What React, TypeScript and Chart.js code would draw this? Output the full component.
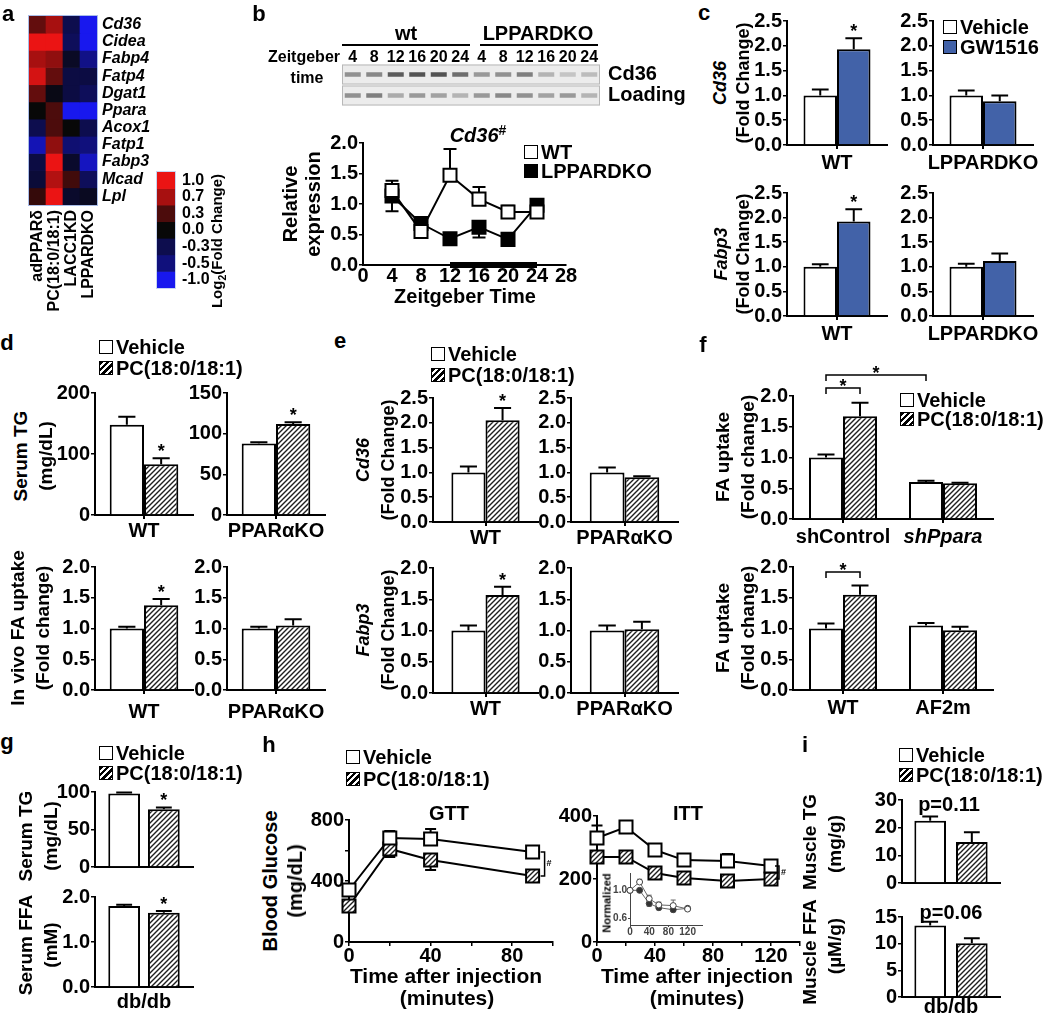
import React, { useEffect, useRef } from 'react';
import { Chart, registerables } from 'chart.js';

Chart.register(...registerables);

const FONT = '"Liberation Sans", Arial, Helvetica, sans-serif';
Chart.defaults.font.family = FONT;
(Chart.defaults.font as any).weight = 'bold';
Chart.defaults.color = '#000';

/* ======================= DATA ======================= */
// a: heat map (log2 fold change)
const heatGenes = ['Cd36', 'Cidea', 'Fabp4', 'Fatp4', 'Dgat1', 'Ppara', 'Acox1', 'Fatp1', 'Fabp3', 'Mcad', 'Lpl'];
const heatColumns = ['adPPARδ', 'PC(18:0/18:1)', 'LACC1KD', 'LPPARDKO'];
const heatValues = [
  [0.4, 0.7, -0.3, -1.0],
  [1.0, 1.0, -0.35, -1.0],
  [0.7, 0.6, -0.12, -0.55],
  [0.9, 0.4, -0.25, -0.25],
  [0.4, -0.05, -0.25, -0.35],
  [0.0, 0.3, -1.0, -1.0],
  [-0.3, 0.3, 0.0, -0.3],
  [-0.75, 0.6, -0.45, -0.5],
  [-0.25, 1.0, -0.15, -0.8],
  [-0.2, 0.75, 0.25, -0.35],
  [0.2, 1.0, -0.15, -0.1],
];
const colorbarValues = [1.0, 0.7, 0.3, 0.0, -0.3, -0.5, -1.0];

// b: blot + Cd36 time course
const blotLanes = ['4', '8', '12', '16', '20', '24', '4', '8', '12', '16', '20', '24'];
const blotRows = ['Cd36', 'Loading'];
const blotCd36 = [0.5, 0.55, 0.8, 0.85, 0.85, 0.7, 0.45, 0.5, 0.6, 0.3, 0.2, 0.25];
const blotLoading = [0.5, 0.6, 0.35, 0.45, 0.4, 0.3, 0.45, 0.55, 0.5, 0.4, 0.45, 0.3];
const zeitTimes = [4, 8, 12, 16, 20, 24];
const cd36WT = [1.22, 0.55, 1.47, 1.08, 0.87, 0.87];
const cd36WTErr = [0.16, 0.02, 0.43, 0.2, 0.1, 0.04];
const cd36KO = [1.13, 0.68, 0.43, 0.62, 0.42, 0.98];
const cd36KOErr = [0.25, 0.03, 0.02, 0.17, 0.03, 0.05];
const darkPhase = [12, 24];
const bXTicks = [0, 4, 8, 12, 16, 20, 24, 28];
const bYTicks = [0, 0.5, 1, 1.5, 2];

// c: GW1516
const cGenotypes = ['WT', 'LPPARDKO'];
const cCd36Vehicle = [1.0, 1.0];
const cCd36VehicleErr = [0.12, 0.1];
const cCd36GW = [1.93, 0.88];
const cCd36GWErr = [0.22, 0.12];
const cFabp3Vehicle = [1.0, 1.0];
const cFabp3VehicleErr = [0.05, 0.06];
const cFabp3GW = [1.92, 1.12];
const cFabp3GWErr = [0.25, 0.15];
const cYTicks = [0, 0.5, 1, 1.5, 2, 2.5];

// d: PC(18:0/18:1) in PPARa KO
const dGenotypes = ['WT', 'PPARαKO'];
const dTGVehicle = [148, 88];
const dTGVehicleErr = [13, 1.5];
const dTGPC = [83, 112];
const dTGPCErr = [10, 2];
const dTGTicksWT = [0, 100, 200];
const dTGTicksKO = [0, 50, 100, 150];
const dFAVehicle = [1.0, 1.0];
const dFAVehicleErr = [0.03, 0.03];
const dFAPC = [1.38, 1.05];
const dFAPCErr = [0.1, 0.1];
const dFATicks = [0, 0.5, 1, 1.5, 2];

// e
const eGenotypes = ['WT', 'PPARαKO'];
const eCd36Vehicle = [1.0, 1.0];
const eCd36VehicleErr = [0.12, 0.1];
const eCd36PC = [2.05, 0.9];
const eCd36PCErr = [0.25, 0.02];
const eFabp3Vehicle = [1.0, 1.0];
const eFabp3VehicleErr = [0.08, 0.08];
const eFabp3PC = [1.57, 1.02];
const eFabp3PCErr = [0.13, 0.12];
const eCd36Ticks = [0, 0.5, 1, 1.5, 2, 2.5];
const eFabp3Ticks = [0, 0.5, 1, 1.5, 2];

// f
const fShGroups = ['shControl', 'shPpara'];
const fShVehicle = [1.0, 0.6];
const fShVehicleErr = [0.05, 0.02];
const fShPC = [1.67, 0.58];
const fShPCErr = [0.22, 0.01];
const fAfGroups = ['WT', 'AF2m'];
const fAfVehicle = [1.0, 1.05];
const fAfVehicleErr = [0.08, 0.04];
const fAfPC = [1.55, 0.97];
const fAfPCErr = [0.15, 0.06];
const fTicks = [0, 0.5, 1, 1.5, 2];

// g (Vehicle, PC)
const gGroup = ['db/db'];
const gTG = [98, 77];
const gTGErr = [1.5, 2.5];
const gTGTicks = [0, 50, 100];
const gFFA = [1.8, 1.65];
const gFFAErr = [0.03, 0.04];
const gFFATicks = [0, 1, 2];

// h
const gttTimes = [0, 20, 40, 90];
const gttVehicle = [341, 682, 675, 590];
const gttVehicleErr = [20, 46, 66, 15];
const gttPC = [236, 610, 538, 433];
const gttPCErr = [20, 53, 66, 20];
const gttXTicks = [0, 20, 40, 60, 80, 100];
const gttXLabels = [0, 40, 80];
const gttYTicks = [0, 200, 400, 600, 800];
const gttYLabels = [0, 400, 800];
const ittTimes = [0, 20, 40, 60, 90, 120];
const ittVehicle = [330, 365, 292, 260, 257, 241];
const ittVehicleErr = [40, 10, 10, 10, 22, 10];
const ittPC = [270, 270, 219, 203, 194, 200];
const ittPCErr = [10, 10, 10, 10, 8, 8];
const ittXTicks = [0, 20, 40, 60, 80, 100, 120, 140];
const ittXLabels = [0, 40, 80, 120];
const ittYTicks = [0, 200, 400];
const normVehicle = [1.0, 1.12, 0.88, 0.79, 0.78, 0.73];
const normVehicleErr = [0, 0.04, 0.05, 0.04, 0.08, 0.02];
const normPC = [1.0, 1.0, 0.81, 0.75, 0.72, 0.74];
const normPCErr = [0, 0.02, 0.04, 0.03, 0.03, 0.02];
const normXTicks = [0, 40, 80, 120];
const normYTicks = [0.6, 1.0];

// i (Vehicle, PC)
const iGroup = ['db/db'];
const iTG = [22.5, 14.8];
const iTGErr = [1.5, 3.5];
const iTGTicks = [0, 10, 20, 30];
const iFFA = [13.4, 10.1];
const iFFAErr = [0.7, 0.9];
const iFFATicks = [0, 5, 10, 15];
const iPValues = ['p=0.11', 'p=0.06'];

/* ======================= STYLE HELPERS ======================= */
const GW_BLUE = '#4262a8';
const f1 = (v: any) => Number(v).toFixed(1);
const f0 = (v: any) => String(Math.round(Number(v)));

function heatColor(v: number) {
  const a = Math.min(1, Math.abs(v));
  if (v >= 0) return `rgb(${Math.round(8 + 227 * a)},${Math.round(8 + 12 * a)},${Math.round(8 + 12 * a)})`;
  return `rgb(${Math.round(8 + 16 * a)},${Math.round(8 + 16 * a)},${Math.round(10 + 228 * a)})`;
}

function hatchPattern(ctx: CanvasRenderingContext2D) {
  const c = document.createElement('canvas');
  c.width = 5;
  c.height = 5;
  const g = c.getContext('2d') as CanvasRenderingContext2D;
  g.fillStyle = '#fff';
  g.fillRect(0, 0, 5, 5);
  g.strokeStyle = '#1e1e1e';
  g.lineWidth = 1.4;
  g.beginPath();
  g.moveTo(-1, 6); g.lineTo(6, -1);
  g.moveTo(-1, 1); g.lineTo(1, -1);
  g.moveTo(4, 6); g.lineTo(6, 4);
  g.stroke();
  return ctx.createPattern(c, 'repeat');
}

const annotPlugin: any = {
  id: 'annot',
  beforeDatasetsDraw(chart: any, _a: any, opts: any) {
    const ctx = chart.ctx;
    if (opts && opts.strips) {
      const ys = chart.scales.y;
      const { left, right } = chart.chartArea;
      for (let i = 0; i < opts.strips; i++) {
        const c = ys.getPixelForValue(i + 0.5);
        ctx.save();
        ctx.fillStyle = '#ececec';
        ctx.fillRect(left, c - 10, right - left, 20);
        ctx.strokeStyle = '#b8b8b8';
        ctx.lineWidth = 1;
        ctx.strokeRect(left + 0.5, c - 9.5, right - left - 1, 19);
        ctx.restore();
      }
    }
    chart.data.datasets.forEach((ds: any, di: number) => {
      if (!ds.errors) return;
      const meta = chart.getDatasetMeta(di);
      const ys = chart.scales[meta.yAxisID];
      const dir = ds.errDir || 1;
      meta.data.forEach((el: any, i: number) => {
        const e = ds.errors[i];
        if (!e) return;
        const raw = ds.data[i];
        const v = typeof raw === 'number' ? raw : raw.y;
        const y0 = ys.getPixelForValue(v);
        const y1 = ys.getPixelForValue(v + dir * e);
        const cap = ds.errCap || (el.width ? el.width * 0.5 : 12);
        ctx.save();
        ctx.strokeStyle = ds.errColor || '#000';
        ctx.lineWidth = ds.errWidth || 2;
        ctx.beginPath();
        ctx.moveTo(el.x, y0);
        ctx.lineTo(el.x, y1);
        ctx.moveTo(el.x - cap / 2, y1);
        ctx.lineTo(el.x + cap / 2, y1);
        ctx.stroke();
        ctx.restore();
      });
    });
  },
  afterDatasetsDraw(chart: any, _a: any, opts: any) {
    const ctx = chart.ctx;
    if (!opts) return;
    const ys = chart.scales.y;
    if (opts.frame) {
      const { left, top, right, bottom } = chart.chartArea;
      ctx.save();
      ctx.strokeStyle = opts.frame;
      ctx.lineWidth = 1;
      ctx.strokeRect(left - 0.5, top - 0.5, right - left + 1, bottom - top + 1);
      ctx.restore();
    }
    (opts.stars || []).forEach((s: any) => {
      const ds = chart.data.datasets[s.ds];
      const el = chart.getDatasetMeta(s.ds).data[s.i];
      const top = ys.getPixelForValue(ds.data[s.i] + (ds.errors ? ds.errors[s.i] : 0));
      ctx.save();
      ctx.font = `bold 18px ${FONT}`;
      ctx.fillStyle = '#000';
      ctx.textAlign = 'center';
      ctx.textBaseline = 'alphabetic';
      ctx.fillText('*', el.x, top - 1);
      ctx.restore();
    });
    (opts.brackets || []).forEach((b: any) => {
      const ea = chart.getDatasetMeta(b.a[0]).data[b.a[1]];
      const eb = chart.getDatasetMeta(b.b[0]).data[b.b[1]];
      const yp = ys.getPixelForValue(b.y);
      ctx.save();
      ctx.strokeStyle = '#000';
      ctx.lineWidth = 1.5;
      ctx.beginPath();
      ctx.moveTo(ea.x, yp + 6);
      ctx.lineTo(ea.x, yp);
      ctx.lineTo(eb.x, yp);
      ctx.lineTo(eb.x, yp + 6);
      ctx.stroke();
      ctx.font = `bold 18px ${FONT}`;
      ctx.fillStyle = '#000';
      ctx.textAlign = 'center';
      ctx.textBaseline = 'alphabetic';
      ctx.fillText(b.text, (ea.x + eb.x) / 2, yp + 4);
      ctx.restore();
    });
    if (opts.endBracket) {
      const { a, b, dx, text } = opts.endBracket;
      const la = chart.getDatasetMeta(a).data;
      const lb = chart.getDatasetMeta(b).data;
      const pa = la[la.length - 1];
      const pb = lb[lb.length - 1];
      const x = pa.x + dx;
      ctx.save();
      ctx.strokeStyle = '#000';
      ctx.lineWidth = 1.5;
      ctx.beginPath();
      ctx.moveTo(x - 4, pa.y);
      ctx.lineTo(x, pa.y);
      ctx.lineTo(x, pb.y);
      ctx.lineTo(x - 4, pb.y);
      ctx.stroke();
      ctx.font = `bold 9px ${FONT}`;
      ctx.fillStyle = '#000';
      ctx.textAlign = 'left';
      ctx.textBaseline = 'middle';
      ctx.fillText(text, x + 2, (pa.y + pb.y) / 2);
      ctx.restore();
    }
  },
};
Chart.register(annotPlugin);

function baseOptions(padding: any, annot: any = {}) {
  return {
    animation: false,
    responsive: false,
    maintainAspectRatio: false,
    events: [],
    layout: { autoPadding: false, padding },
    plugins: { legend: { display: false }, tooltip: { enabled: false }, title: { display: false }, annot },
  };
}

function linScale(axis: 'x' | 'y', m: number[], o: any) {
  const col = o.color || '#000';
  return {
    type: 'linear',
    min: o.min,
    max: o.max,
    afterBuildTicks: (s: any) => {
      s.ticks = o.ticks.map((v: number) => ({ value: v }));
    },
    ticks: {
      autoSkip: false,
      maxRotation: 0,
      padding: o.pad,
      font: { size: o.fs, weight: 'bold' },
      color: col,
      callback: (v: any) => (o.labels ? (o.labels.includes(v) ? o.fmt(v) : '') : o.fmt(v)),
    },
    grid: { display: true, drawOnChartArea: false, drawTicks: o.tl > 0, tickLength: o.tl, color: col, lineWidth: o.lw || 1.5 },
    border: { display: true, color: col, width: o.lw || 2 },
    afterFit: (s: any) => {
      if (axis === 'x') s.height = m[3];
      else s.width = m[0];
    },
  };
}

function barConfig(ctx: CanvasRenderingContext2D, m: number[], o: any) {
  const trtFill = o.trtFill === 'hatch' ? hatchPattern(ctx) : o.trtFill;
  const common = {
    borderColor: '#000',
    borderWidth: 2,
    borderSkipped: 'bottom',
    categoryPercentage: o.catPct,
    barPercentage: o.barPct || 1,
  };
  return {
    type: 'bar',
    data: {
      labels: o.labels,
      datasets: [
        { label: 'Vehicle', data: o.veh, errors: o.vehErr, backgroundColor: '#fff', ...common },
        { label: o.trtName || 'PC(18:0/18:1)', data: o.trt, errors: o.trtErr, backgroundColor: trtFill, ...common },
      ],
    },
    options: {
      ...baseOptions({ left: 0, top: m[1], right: m[2], bottom: 0 }, { stars: o.stars || [], brackets: o.brackets || [] }),
      scales: {
        x: {
          type: 'category',
          offset: true,
          grid: { display: true, offset: false, drawOnChartArea: false, drawTicks: o.xTl > 0, tickLength: o.xTl || 0, color: '#000', lineWidth: 2 },
          border: { display: true, color: '#000', width: 2 },
          ticks: {
            display: o.showX !== false,
            autoSkip: false,
            maxRotation: 0,
            padding: o.xPad,
            color: '#000',
            font: (c: any) => ({ size: 20, weight: 'bold', style: o.italicIdx === c.index ? 'italic' : 'normal' }),
          },
          afterFit: (s: any) => {
            s.height = m[3];
          },
        },
        y: linScale('y', m, { min: 0, max: o.yTicks[o.yTicks.length - 1], ticks: o.yTicks, fmt: o.fmt, fs: 20, pad: 1, tl: 4 }),
      },
    },
  };
}

function heatConfig(_ctx: any, m: number[]) {
  return {
    type: 'bar',
    data: {
      labels: heatColumns,
      datasets: heatGenes.map((g, gi) => ({
        label: g,
        data: heatColumns.map(() => 1),
        backgroundColor: heatValues[gi].map((v) => heatColor(v)),
        borderWidth: 0,
        barPercentage: 1,
        categoryPercentage: 1,
      })),
    },
    options: {
      ...baseOptions({ left: m[0], top: m[1], right: 0, bottom: 0 }, { frame: '#a9bde8' }),
      scales: {
        x: {
          stacked: true,
          grid: { display: false, drawTicks: false },
          border: { display: false },
          ticks: { autoSkip: false, minRotation: 90, maxRotation: 90, padding: 5, font: { size: 16, weight: 'bold' }, color: '#000' },
          afterFit: (s: any) => {
            s.height = m[3];
          },
        },
        y: {
          stacked: true,
          position: 'right',
          reverse: true,
          min: 0,
          max: heatGenes.length,
          afterBuildTicks: (s: any) => {
            s.ticks = heatGenes.map((_, i) => ({ value: i + 0.5 }));
          },
          ticks: {
            autoSkip: false,
            padding: 5,
            font: { size: 16, weight: 'bold', style: 'italic' },
            color: '#000',
            callback: (v: any) => heatGenes[Math.floor(Number(v))],
          },
          grid: { display: false, drawTicks: false },
          border: { display: false },
          afterFit: (s: any) => {
            s.width = m[2];
          },
        },
      },
    },
  };
}

function colorbarConfig(_ctx: any, m: number[]) {
  return {
    type: 'bar',
    data: {
      labels: [''],
      datasets: colorbarValues.map((v) => ({
        data: [1],
        backgroundColor: heatColor(v),
        borderWidth: 0,
        barPercentage: 1,
        categoryPercentage: 1,
      })),
    },
    options: {
      ...baseOptions({ left: m[0], top: m[1], right: 0, bottom: m[3] }, { frame: '#c8d4f0' }),
      scales: {
        x: { stacked: true, display: false },
        y: {
          stacked: true,
          position: 'right',
          reverse: true,
          min: 0,
          max: colorbarValues.length,
          afterBuildTicks: (s: any) => {
            s.ticks = colorbarValues.map((_, i) => ({ value: i + 0.5 }));
          },
          ticks: {
            autoSkip: false,
            padding: 7,
            font: { size: 16, weight: 'bold' },
            color: '#000',
            callback: (v: any) => colorbarValues[Math.floor(Number(v))].toFixed(1),
          },
          grid: { display: false, drawTicks: false },
          border: { display: false },
          afterFit: (s: any) => {
            s.width = m[2];
          },
        },
      },
    },
  };
}

function blotConfig(_ctx: any, m: number[]) {
  const band = (vals: number[]) =>
    vals.map((v) => {
      const g = Math.round(232 - 175 * v);
      return `rgb(${g},${g},${g})`;
    });
  const common = { showLine: false, pointStyle: 'line', pointRadius: 8, pointBorderWidth: 4.5 };
  return {
    type: 'line',
    data: {
      datasets: [
        { data: blotCd36.map((_, i) => ({ x: i, y: blotRows.indexOf('Cd36') + 0.5 })), pointBorderColor: band(blotCd36), ...common },
        { data: blotLoading.map((_, i) => ({ x: i, y: blotRows.indexOf('Loading') + 0.5 })), pointBorderColor: band(blotLoading), ...common },
      ],
    },
    options: {
      ...baseOptions({ left: m[0], top: 0, right: 0, bottom: m[3] }, { strips: blotRows.length }),
      scales: {
        x: {
          type: 'category',
          labels: blotLanes,
          position: 'top',
          offset: true,
          grid: { display: false, drawTicks: false },
          border: { display: false },
          ticks: { autoSkip: false, maxRotation: 0, padding: -3, font: { size: 16, weight: 'bold' }, color: '#000' },
          afterFit: (s: any) => {
            s.height = m[1];
          },
        },
        y: {
          type: 'linear',
          position: 'right',
          reverse: true,
          min: 0,
          max: blotRows.length,
          afterBuildTicks: (s: any) => {
            s.ticks = blotRows.map((_, i) => ({ value: i + 0.5 }));
          },
          grid: { display: false, drawTicks: false },
          border: { display: false },
          ticks: {
            autoSkip: false,
            padding: 8,
            font: { size: 20, weight: 'bold' },
            color: '#000',
            callback: (v: any) => blotRows[Math.floor(Number(v))],
          },
          afterFit: (s: any) => {
            s.width = m[2];
          },
        },
      },
    },
  };
}

function cd36TimeConfig(_ctx: any, m: number[]) {
  const pt = { pointStyle: 'rect', pointRadius: 9.2, pointBorderWidth: 2, pointBorderColor: '#000', borderColor: '#000', borderWidth: 2, tension: 0, clip: false, errCap: 13 };
  return {
    type: 'line',
    data: {
      datasets: [
        { label: 'WT', data: zeitTimes.map((t, i) => ({ x: t, y: cd36WT[i] })), errors: cd36WTErr, errDir: 1, pointBackgroundColor: '#fff', ...pt },
        { label: 'LPPARDKO', data: zeitTimes.map((t, i) => ({ x: t, y: cd36KO[i] })), errors: cd36KOErr, errDir: -1, pointBackgroundColor: '#000', ...pt },
        { label: 'dark', data: darkPhase.map((t) => ({ x: t, y: 0 })), borderColor: '#000', borderWidth: 6, pointRadius: 0, clip: false, borderCapStyle: 'butt' },
      ],
    },
    options: {
      ...baseOptions({ left: 0, top: m[1], right: m[2], bottom: 0 }),
      scales: {
        x: linScale('x', m, { min: 0, max: 28, ticks: bXTicks, fmt: f0, fs: 20, pad: -1, tl: 0 }),
        y: linScale('y', m, { min: 0, max: 2, ticks: bYTicks, fmt: f1, fs: 20, pad: 1, tl: 4 }),
      },
    },
  };
}

function toleranceConfig(ctx: CanvasRenderingContext2D, m: number[], o: any) {
  const pt = { pointStyle: 'rect', pointRadius: 9.2, pointBorderWidth: 2, pointBorderColor: '#000', borderColor: '#000', borderWidth: 2, tension: 0, clip: false, errCap: 11 };
  return {
    type: 'line',
    data: {
      datasets: [
        { label: 'Vehicle', data: o.x.map((t: number, i: number) => ({ x: t, y: o.veh[i] })), errors: o.vehErr, errDir: 1, pointBackgroundColor: '#fff', ...pt },
        { label: 'PC(18:0/18:1)', data: o.x.map((t: number, i: number) => ({ x: t, y: o.pc[i] })), errors: o.pcErr, errDir: -1, pointBackgroundColor: hatchPattern(ctx), ...pt },
      ],
    },
    options: {
      ...baseOptions({ left: 0, top: m[1], right: m[2], bottom: 0 }, { endBracket: { a: 0, b: 1, dx: o.dx, text: '#' } }),
      scales: {
        x: linScale('x', m, { min: 0, max: o.xMax, ticks: o.xTicks, labels: o.xLabels, fmt: f0, fs: 20, pad: -2, tl: 4 }),
        y: linScale('y', m, { min: 0, max: o.yMax, ticks: o.yTicks, labels: o.yLabels, fmt: f0, fs: 20, pad: 1, tl: 4 }),
      },
    },
  };
}

function insetConfig(_ctx: any, m: number[]) {
  const pt = { pointStyle: 'circle', pointRadius: 3, pointBorderWidth: 1, pointBorderColor: '#444', borderColor: '#666', borderWidth: 1, tension: 0, clip: false, errCap: 5, errWidth: 1, errColor: '#666' };
  return {
    type: 'line',
    data: {
      datasets: [
        { data: ittTimes.map((t, i) => ({ x: t, y: normVehicle[i] })), errors: normVehicleErr, errDir: 1, pointBackgroundColor: '#fff', ...pt },
        { data: ittTimes.map((t, i) => ({ x: t, y: normPC[i] })), errors: normPCErr, errDir: -1, pointBackgroundColor: '#333', ...pt },
      ],
    },
    options: {
      ...baseOptions({ left: 0, top: m[1], right: m[2], bottom: 0 }),
      scales: {
        x: linScale('x', m, { min: 0, max: 150, ticks: normXTicks, fmt: f0, fs: 10, pad: -1, tl: 2, color: '#444', lw: 1 }),
        y: linScale('y', m, { min: 0.5, max: 1.25, ticks: normYTicks, fmt: f1, fs: 10, pad: 1, tl: 2, color: '#444', lw: 1 }),
      },
    },
  };
}

/* ======================= CHART LIST ======================= */
type Def = { plot: number[]; m: number[]; make: (ctx: CanvasRenderingContext2D, m: number[]) => any };

const pairBar = (labels: string[], k: number, veh: number[], vehErr: number[], trt: number[], trtErr: number[]) => ({
  labels: [labels[k]],
  veh: [veh[k]],
  vehErr: [vehErr[k]],
  trt: [trt[k]],
  trtErr: [trtErr[k]],
});

const chartDefs: Def[] = [
  { plot: [29, 16, 97, 205], m: [19, 16, 75, 115], make: heatConfig },
  { plot: [157, 172, 175, 288], m: [7, 18, 45, 26], make: colorbarConfig },
  { plot: [342, 64, 600, 106], m: [10, 24, 100, 22], make: blotConfig },
  { plot: [363, 143, 566, 265], m: [45, 22, 16, 24], make: cd36TimeConfig },
  // c
  { plot: [787, 21, 887, 145], m: [48, 18, 18, 32], make: (ctx, m) => barConfig(ctx, m, { ...pairBar(cGenotypes, 0, cCd36Vehicle, cCd36VehicleErr, cCd36GW, cCd36GWErr), trtName: 'GW1516', trtFill: GW_BLUE, yTicks: cYTicks, fmt: f1, catPct: 0.67, xTl: 4, xPad: 2, stars: [{ ds: 1, i: 0 }] }) },
  { plot: [933, 21, 1033, 145], m: [48, 18, 17, 32], make: (ctx, m) => barConfig(ctx, m, { ...pairBar(cGenotypes, 1, cCd36Vehicle, cCd36VehicleErr, cCd36GW, cCd36GWErr), trtName: 'GW1516', trtFill: GW_BLUE, yTicks: cYTicks, fmt: f1, catPct: 0.67, xTl: 4, xPad: 2 }) },
  { plot: [787, 193, 887, 316], m: [48, 18, 18, 32], make: (ctx, m) => barConfig(ctx, m, { ...pairBar(cGenotypes, 0, cFabp3Vehicle, cFabp3VehicleErr, cFabp3GW, cFabp3GWErr), trtName: 'GW1516', trtFill: GW_BLUE, yTicks: cYTicks, fmt: f1, catPct: 0.67, xTl: 4, xPad: 2, stars: [{ ds: 1, i: 0 }] }) },
  { plot: [933, 193, 1033, 316], m: [48, 18, 17, 32], make: (ctx, m) => barConfig(ctx, m, { ...pairBar(cGenotypes, 1, cFabp3Vehicle, cFabp3VehicleErr, cFabp3GW, cFabp3GWErr), trtName: 'GW1516', trtFill: GW_BLUE, yTicks: cYTicks, fmt: f1, catPct: 0.67, xTl: 4, xPad: 2 }) },
  // d
  { plot: [95, 393, 193, 515], m: [50, 18, 20, 30], make: (ctx, m) => barConfig(ctx, m, { ...pairBar(dGenotypes, 0, dTGVehicle, dTGVehicleErr, dTGPC, dTGPCErr), trtFill: 'hatch', yTicks: dTGTicksWT, fmt: f0, catPct: 0.7, xTl: 4, xPad: 0, stars: [{ ds: 1, i: 0 }] }) },
  { plot: [227, 393, 325, 515], m: [50, 18, 20, 30], make: (ctx, m) => barConfig(ctx, m, { ...pairBar(dGenotypes, 1, dTGVehicle, dTGVehicleErr, dTGPC, dTGPCErr), trtFill: 'hatch', yTicks: dTGTicksKO, fmt: f0, catPct: 0.7, xTl: 4, xPad: 0, stars: [{ ds: 1, i: 0 }] }) },
  { plot: [95, 567, 193, 690], m: [50, 18, 20, 34], make: (ctx, m) => barConfig(ctx, m, { ...pairBar(dGenotypes, 0, dFAVehicle, dFAVehicleErr, dFAPC, dFAPCErr), trtFill: 'hatch', yTicks: dFATicks, fmt: f1, catPct: 0.7, xTl: 4, xPad: 6, stars: [{ ds: 1, i: 0 }] }) },
  { plot: [227, 567, 325, 690], m: [50, 18, 20, 34], make: (ctx, m) => barConfig(ctx, m, { ...pairBar(dGenotypes, 1, dFAVehicle, dFAVehicleErr, dFAPC, dFAPCErr), trtFill: 'hatch', yTicks: dFATicks, fmt: f1, catPct: 0.7, xTl: 4, xPad: 6 }) },
  // e
  { plot: [433, 398, 538, 522], m: [48, 18, 20, 30], make: (ctx, m) => barConfig(ctx, m, { ...pairBar(eGenotypes, 0, eCd36Vehicle, eCd36VehicleErr, eCd36PC, eCd36PCErr), trtFill: 'hatch', yTicks: eCd36Ticks, fmt: f1, catPct: 0.65, xTl: 4, xPad: 0, stars: [{ ds: 1, i: 0 }] }) },
  { plot: [571, 398, 678, 522], m: [48, 18, 20, 30], make: (ctx, m) => barConfig(ctx, m, { ...pairBar(eGenotypes, 1, eCd36Vehicle, eCd36VehicleErr, eCd36PC, eCd36PCErr), trtFill: 'hatch', yTicks: eCd36Ticks, fmt: f1, catPct: 0.65, xTl: 4, xPad: 0 }) },
  { plot: [433, 568, 538, 693], m: [48, 18, 20, 30], make: (ctx, m) => barConfig(ctx, m, { ...pairBar(eGenotypes, 0, eFabp3Vehicle, eFabp3VehicleErr, eFabp3PC, eFabp3PCErr), trtFill: 'hatch', yTicks: eFabp3Ticks, fmt: f1, catPct: 0.65, xTl: 4, xPad: 0, stars: [{ ds: 1, i: 0 }] }) },
  { plot: [571, 568, 678, 693], m: [48, 18, 20, 30], make: (ctx, m) => barConfig(ctx, m, { ...pairBar(eGenotypes, 1, eFabp3Vehicle, eFabp3VehicleErr, eFabp3PC, eFabp3PCErr), trtFill: 'hatch', yTicks: eFabp3Ticks, fmt: f1, catPct: 0.65, xTl: 4, xPad: 0 }) },
  // f
  {
    plot: [793, 396, 993, 519], m: [50, 35, 20, 32],
    make: (ctx, m) => barConfig(ctx, m, {
      labels: fShGroups, veh: fShVehicle, vehErr: fShVehicleErr, trt: fShPC, trtErr: fShPCErr, trtFill: 'hatch', yTicks: fTicks, fmt: f1, catPct: 0.68, xTl: 4, xPad: 2, italicIdx: 1,
      brackets: [{ a: [0, 0], b: [1, 0], y: 2.13, text: '*' }, { a: [0, 0], b: [0, 1], y: 2.34, text: '*' }],
    }),
  },
  {
    plot: [793, 567, 993, 690], m: [50, 18, 20, 32],
    make: (ctx, m) => barConfig(ctx, m, {
      labels: fAfGroups, veh: fAfVehicle, vehErr: fAfVehicleErr, trt: fAfPC, trtErr: fAfPCErr, trtFill: 'hatch', yTicks: fTicks, fmt: f1, catPct: 0.68, xTl: 4, xPad: 2,
      brackets: [{ a: [0, 0], b: [1, 0], y: 1.92, text: '*' }],
    }),
  },
  // g
  { plot: [95, 792, 193, 872], m: [50, 14, 20, 8], make: (ctx, m) => barConfig(ctx, m, { labels: gGroup, veh: [gTG[0]], vehErr: [gTGErr[0]], trt: [gTG[1]], trtErr: [gTGErr[1]], trtFill: 'hatch', yTicks: gTGTicks, fmt: f0, catPct: 0.81, barPct: 0.8, xTl: 0, xPad: 0, showX: false, stars: [{ ds: 1, i: 0 }] }) },
  { plot: [95, 897, 193, 987], m: [50, 14, 20, 27], make: (ctx, m) => barConfig(ctx, m, { labels: gGroup, veh: [gFFA[0]], vehErr: [gFFAErr[0]], trt: [gFFA[1]], trtErr: [gFFAErr[1]], trtFill: 'hatch', yTicks: gFFATicks, fmt: f1, catPct: 0.81, barPct: 0.8, xTl: 0, xPad: 3, stars: [{ ds: 1, i: 0 }] }) },
  // h
  { plot: [349, 820, 553, 942], m: [50, 14, 16, 26], make: (ctx, m) => toleranceConfig(ctx, m, { x: gttTimes, veh: gttVehicle, vehErr: gttVehicleErr, pc: gttPC, pcErr: gttPCErr, xMax: 100, xTicks: gttXTicks, xLabels: gttXLabels, yMax: 800, yTicks: gttYTicks, yLabels: gttYLabels, dx: 12 }) },
  { plot: [597, 816, 800, 942], m: [50, 14, 10, 26], make: (ctx, m) => toleranceConfig(ctx, m, { x: ittTimes, veh: ittVehicle, vehErr: ittVehicleErr, pc: ittPC, pcErr: ittPCErr, xMax: 140, xTicks: ittXTicks, xLabels: ittXLabels, yMax: 400, yTicks: ittYTicks, yLabels: null, dx: 8 }) },
  { plot: [630, 873, 702, 925], m: [26, 8, 6, 14], make: insetConfig },
  // i
  { plot: [902, 800, 1000, 888], m: [50, 14, 20, 8], make: (ctx, m) => barConfig(ctx, m, { labels: iGroup, veh: [iTG[0]], vehErr: [iTGErr[0]], trt: [iTG[1]], trtErr: [iTGErr[1]], trtFill: 'hatch', yTicks: iTGTicks, fmt: f0, catPct: 0.85, barPct: 0.76, xTl: 0, xPad: 0, showX: false }) },
  { plot: [902, 917, 1000, 997], m: [50, 14, 20, 20], make: (ctx, m) => barConfig(ctx, m, { labels: iGroup, veh: [iFFA[0]], vehErr: [iFFAErr[0]], trt: [iFFA[1]], trtErr: [iFFAErr[1]], trtFill: 'hatch', yTicks: iFFATicks, fmt: f0, catPct: 0.85, barPct: 0.76, xTl: 0, xPad: -2 }) },
];

/* ======================= COMPONENTS ======================= */
function ChartBox({ plot, m, make }: Def) {
  const ref = useRef<HTMLCanvasElement | null>(null);
  const x = plot[0] - m[0];
  const y = plot[1] - m[1];
  const w = plot[2] - plot[0] + m[0] + m[2];
  const h = plot[3] - plot[1] + m[1] + m[3];
  useEffect(() => {
    const cv = ref.current as HTMLCanvasElement;
    const ctx = cv.getContext('2d') as CanvasRenderingContext2D;
    const chart = new Chart(cv, make(ctx, m));
    return () => chart.destroy();
  }, []);
  return <canvas ref={ref} width={w} height={h} style={{ position: 'absolute', left: x, top: y, width: w, height: h, display: 'block' }} />;
}

function T({ x, y, s = 20, al = 'c', rot = false, it = false, children }: any) {
  const tx = al === 'l' ? '0' : al === 'r' ? '-100%' : '-50%';
  return (
    <div
      style={{
        position: 'absolute',
        left: x,
        top: y,
        transform: `translate(${tx},-50%)${rot ? ' rotate(-90deg)' : ''}`,
        fontSize: s,
        fontStyle: it ? 'italic' : 'normal',
        fontWeight: 'bold',
        lineHeight: 1,
        whiteSpace: 'nowrap',
      }}
    >
      {children}
    </div>
  );
}

const HATCH_CSS = 'repeating-linear-gradient(135deg, #000 0px, #000 2.5px, #fff 2.5px, #fff 4.5px)';
function Sq({ x, y, fill }: any) {
  return <div style={{ position: 'absolute', left: x, top: y - 7, width: 14, height: 14, boxSizing: 'border-box', border: '1.5px solid #000', background: fill }} />;
}
function Leg({ x, y, fill, children }: any) {
  return (
    <>
      <Sq x={x} y={y} fill={fill} />
      <T x={x + 17} y={y} al="l">{children}</T>
    </>
  );
}
function HLine({ x1, x2, y }: any) {
  return <div style={{ position: 'absolute', left: x1, top: y - 1, width: x2 - x1, height: 2, background: '#000' }} />;
}

export default function App() {
  const sub = { fontSize: '0.7em' };
  return (
    <div style={{ position: 'absolute', left: 0, top: 0, width: 1050, height: 1014, overflow: 'hidden', background: '#fff', fontFamily: FONT, color: '#000' }}>
      {chartDefs.map((d, i) => (
        <ChartBox key={i} {...d} />
      ))}

      {/* panel letters */}
      <T x={8} y={14} s={22}>a</T>
      <T x={259} y={14} s={22}>b</T>
      <T x={704} y={13} s={22}>c</T>
      <T x={7} y={343} s={22}>d</T>
      <T x={340} y={341} s={22}>e</T>
      <T x={703} y={345} s={22}>f</T>
      <T x={7} y={742} s={22}>g</T>
      <T x={269} y={745} s={22}>h</T>
      <T x={805} y={745} s={22}>i</T>

      {/* a */}
      <T x={218} y={241} s={15} rot>
        Log<sub style={sub}>2</sub>(Fold Change)
      </T>

      {/* b */}
      <T x={406} y={33}>wt</T>
      <HLine x1={342} x2={470} y={45} />
      <T x={538} y={33}>LPPARDKO</T>
      <HLine x1={480} x2={598} y={45} />
      <T x={340} y={57} s={16} al="r">Zeitgeber</T>
      <T x={307} y={78} s={16}>time</T>
      <T x={478} y={134} it>
        Cd36<sup style={{ fontSize: '0.7em', fontStyle: 'normal' }}>#</sup>
      </T>
      <Leg x={524} y={152} fill="#fff">WT</Leg>
      <Leg x={524} y={171} fill="#000">LPPARDKO</Leg>
      <T x={290} y={204} rot>Relative</T>
      <T x={313} y={204} rot>expression</T>
      <T x={465} y={296}>Zeitgeber Time</T>

      {/* c */}
      <Leg x={943} y={27} fill="#fff">Vehicle</Leg>
      <Leg x={943} y={47} fill={GW_BLUE}>GW1516</Leg>
      <T x={720} y={83} s={18} rot it>Cd36</T>
      <T x={743} y={83} s={18} rot>(Fold Change)</T>
      <T x={721} y={254} s={18} rot it>Fabp3</T>
      <T x={743} y={254} s={18} rot>(Fold Change)</T>

      {/* d */}
      <Leg x={99} y={347} fill="#fff">Vehicle</Leg>
      <Leg x={99} y={368} fill={HATCH_CSS}>PC(18:0/18:1)</Leg>
      <T x={20} y={456} s={19} rot>Serum TG</T>
      <T x={45} y={456} s={19} rot>(mg/dL)</T>
      <T x={17} y={628} s={19} rot>In vivo FA uptake</T>
      <T x={42} y={628} s={19} rot>(Fold change)</T>

      {/* e */}
      <Leg x={431} y={354} fill="#fff">Vehicle</Leg>
      <Leg x={431} y={375} fill={HATCH_CSS}>PC(18:0/18:1)</Leg>
      <T x={363} y={460} s={18} rot it>Cd36</T>
      <T x={388} y={460} s={18} rot>(Fold Change)</T>
      <T x={363} y={630} s={18} rot it>Fabp3</T>
      <T x={388} y={630} s={18} rot>(Fold Change)</T>

      {/* f */}
      <Leg x={900} y={400} fill="#fff">Vehicle</Leg>
      <Leg x={900} y={419} fill={HATCH_CSS}>PC(18:0/18:1)</Leg>
      <T x={722} y={457} s={19} rot>FA uptake</T>
      <T x={747} y={457} s={19} rot>(Fold change)</T>
      <T x={722} y={628} s={19} rot>FA uptake</T>
      <T x={747} y={628} s={19} rot>(Fold change)</T>

      {/* g */}
      <Leg x={99} y={753} fill="#fff">Vehicle</Leg>
      <Leg x={99} y={773} fill={HATCH_CSS}>PC(18:0/18:1)</Leg>
      <T x={25} y={836} s={19} rot>Serum TG</T>
      <T x={50} y={836} s={19} rot>(mg/dL)</T>
      <T x={25} y={945} s={19} rot>Serum FFA</T>
      <T x={50} y={945} s={19} rot>(mM)</T>

      {/* h */}
      <Leg x={346} y={757} fill="#fff">Vehicle</Leg>
      <Leg x={346} y={779} fill={HATCH_CSS}>PC(18:0/18:1)</Leg>
      <T x={449} y={813}>GTT</T>
      <T x={688} y={813}>ITT</T>
      <T x={270} y={881} rot>Blood Glucose</T>
      <T x={295} y={881} rot>(mg/dL)</T>
      <T x={446} y={975} s={21}>Time after injection</T>
      <T x={447} y={997} s={21}>(minutes)</T>
      <T x={697} y={975} s={21}>Time after injection</T>
      <T x={697} y={997} s={21}>(minutes)</T>
      <T x={607} y={903} s={11} rot>Normalized</T>

      {/* i */}
      <Leg x={899} y={755} fill="#fff">Vehicle</Leg>
      <Leg x={899} y={775} fill={HATCH_CSS}>PC(18:0/18:1)</Leg>
      <T x={949} y={804}>{iPValues[0]}</T>
      <T x={951} y={912}>{iPValues[1]}</T>
      <T x={809} y={842} s={19} rot>Muscle TG</T>
      <T x={834} y={844} s={19} rot>(mg/g)</T>
      <T x={809} y={952} s={19} rot>Muscle FFA</T>
      <T x={834} y={946} s={19} rot>(µM/g)</T>
    </div>
  );
}
